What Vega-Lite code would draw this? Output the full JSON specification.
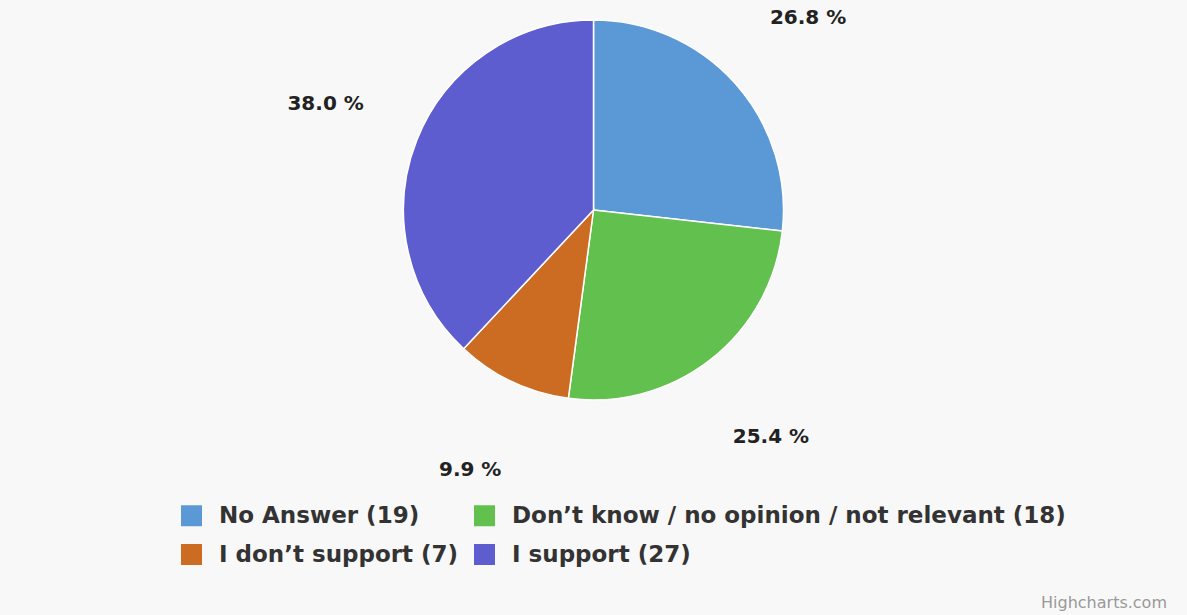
{
  "$schema": "https://vega.github.io/schema/vega-lite/v6.json",
  "width": 1187,
  "height": 420,
  "autosize": {"type": "none"},
  "padding": {"top": 0, "left": 0, "right": 0, "bottom": 195},
  "background": "#f8f8f8",
  "data": {
    "values": [
      {"idx": 1, "label": "No Answer (19)", "count": 19, "pct": "26.8 %"},
      {"idx": 2, "label": "Don’t know / no opinion / not relevant (18)", "count": 18, "pct": "25.4 %"},
      {"idx": 3, "label": "I don’t support (7)", "count": 7, "pct": "9.9 %"},
      {"idx": 4, "label": "I support (27)", "count": 27, "pct": "38.0 %"}
    ]
  },
  "title": {
    "text": "Highcharts.com",
    "orient": "bottom",
    "anchor": "end",
    "offset": 28,
    "fontSize": 16,
    "fontWeight": "normal",
    "font": "DejaVu Sans",
    "color": "#999999",
    "dx": -20
  },
  "encoding": {
    "theta": {"field": "count", "type": "quantitative", "stack": true},
    "order": {"field": "idx", "type": "ordinal"}
  },
  "layer": [
    {
      "mark": {"type": "arc", "outerRadius": 190, "stroke": "#ffffff", "strokeWidth": 1.5},
      "encoding": {
        "color": {
          "field": "label",
          "type": "nominal",
          "scale": {
            "domain": ["No Answer (19)", "Don’t know / no opinion / not relevant (18)", "I don’t support (7)", "I support (27)"],
            "range": ["#5b98d6", "#62c04e", "#cc6c22", "#5d5dcf"]
          },
          "legend": {
            "title": null,
            "orient": "none",
            "direction": "horizontal",
            "legendX": 180,
            "legendY": 504,
            "columns": 2,
            "columnPadding": 14,
            "rowPadding": 15,
            "symbolType": "square",
            "symbolSize": 440,
            "symbolStrokeWidth": 0,
            "labelFont": "DejaVu Sans",
            "labelFontWeight": "bold",
            "labelFontSize": 23,
            "labelColor": "#333333",
            "labelOffset": 16,
            "labelLimit": 700
          }
        }
      }
    },
    {
      "mark": {"type": "text", "radius": 288, "font": "DejaVu Sans", "fontWeight": "bold", "fontSize": 20, "fill": "#222222"},
      "encoding": {"text": {"field": "pct", "type": "nominal"}}
    }
  ]
}
